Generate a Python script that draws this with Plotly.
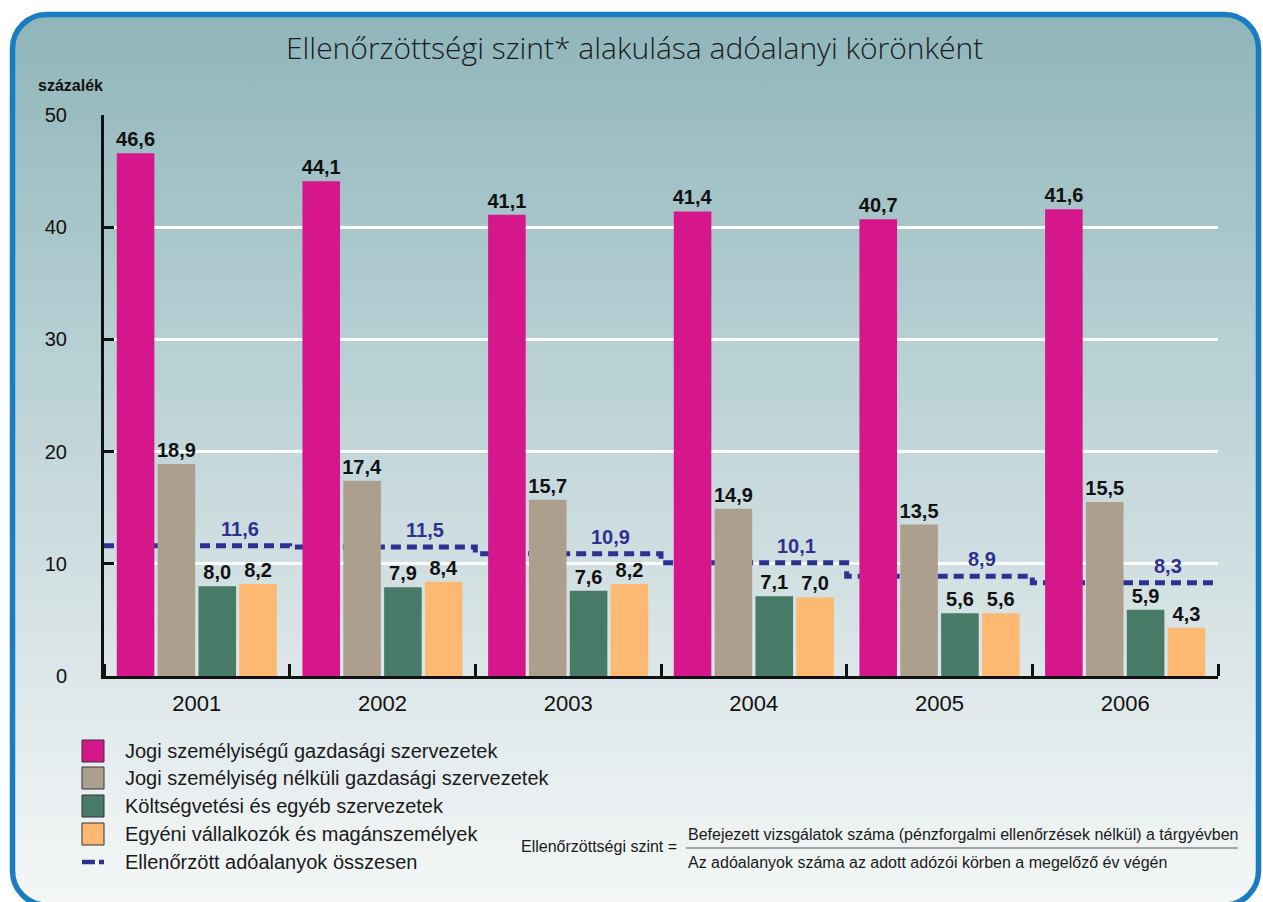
import base64
import plotly.graph_objects as go

# ---------------- data ----------------
years = ["2001", "2002", "2003", "2004", "2005", "2006"]
series_names = [
    "Jogi személyiségű gazdasági szervezetek",
    "Jogi személyiség nélküli gazdasági szervezetek",
    "Költségvetési és egyéb szervezetek",
    "Egyéni vállalkozók és magánszemélyek",
]
jogi = [46.6, 44.1, 41.1, 41.4, 40.7, 41.6]
nem_jogi = [18.9, 17.4, 15.7, 14.9, 13.5, 15.5]
koltsegvetesi = [8.0, 7.9, 7.6, 7.1, 5.6, 5.9]
egyeni = [8.2, 8.4, 8.2, 7.0, 5.6, 4.3]
osszesen = [11.6, 11.5, 10.9, 10.1, 8.9, 8.3]
total_name = "Ellenőrzött adóalanyok összesen"
y_ticks = [0, 10, 20, 30, 40, 50]

colors = ["#d6168b", "#ad9f8e", "#477b67", "#fdb872"]
navy = "#2e3192"

# ---------------- geometry (pixels) ----------------
W, H = 1263, 902
L, R, T, B = 104, 1218, 115, 676
PW, PH = R - L, B - T


def px(x):
    return (x - L) / PW


def py(y):
    return (B - y) / PH


def fmt(v):
    return f"{v:.1f}".replace(".", ",")


FONT = "Liberation Sans, Arial, sans-serif"
TITLE_FONT = "Open Sans, Liberation Sans, sans-serif"

xs = list(range(len(years)))

fig = go.Figure()

# step line for the total (drawn on base axes, behind the bars)
step_x = [i - 0.5 for i in xs] + [xs[-1] + 0.5]
step_y = osszesen + [osszesen[-1]]
fig.add_trace(go.Scatter(
    x=step_x, y=step_y, mode="lines", line_shape="hv",
    line=dict(color=navy, width=5, dash="10px,6px"),
    name=total_name, showlegend=False, hoverinfo="skip",
    xaxis="x", yaxis="y",
))

for name, vals, col in zip(series_names, [jogi, nem_jogi, koltsegvetesi, egyeni], colors):
    fig.add_trace(go.Bar(
        x=xs, y=vals, name=name, marker=dict(color=col, line=dict(width=0)),
        text=[fmt(v) for v in vals], textposition="outside",
        textfont=dict(family=FONT, size=20, color="#111", weight="bold"),
        constraintext="none", cliponaxis=False, showlegend=False,
        xaxis="x2", yaxis="y2",
    ))

# ---------------- background (rounded gradient panel) ----------------
svg = f'''<svg xmlns="http://www.w3.org/2000/svg" width="{W}" height="{H}" viewBox="0 0 {W} {H}" preserveAspectRatio="none">
<defs><linearGradient id="g" x1="0" y1="0" x2="0" y2="1">
<stop offset="0" stop-color="#8fb5ba"/>
<stop offset="0.35" stop-color="#b4ced2"/>
<stop offset="0.7" stop-color="#d9e4e6"/>
<stop offset="1" stop-color="#f5f7f8"/>
</linearGradient></defs>
<rect x="0" y="0" width="{W}" height="{H}" fill="#ffffff"/>
<rect x="12.5" y="14.5" width="1246" height="890.5" rx="34" ry="34" fill="url(#g)" stroke="#1a7dc4" stroke-width="5.5"/>
</svg>'''
src = "data:image/svg+xml;base64," + base64.b64encode(svg.encode("utf-8")).decode("ascii")

images = [dict(source=src, xref="paper", yref="paper", x=px(0), y=py(0),
               sizex=W / PW, sizey=H / PH, xanchor="left", yanchor="top",
               sizing="stretch", layer="below")]

# ---------------- annotations / legend ----------------
ann = [
    dict(text="Ellenőrzöttségi szint* alakulása adóalanyi körönként",
         x=px(634), y=py(47), xref="paper", yref="paper", showarrow=False,
         font=dict(family=TITLE_FONT, size=30, color="#1a1a1a", weight=300),
         xanchor="center", yanchor="middle"),
    dict(text="<b>százalék</b>", x=px(36), y=py(86), xref="paper", yref="paper",
         showarrow=False, font=dict(family=FONT, size=16, color="#111"),
         xanchor="left", yanchor="middle"),
]

# total value labels above the step line
for i, v in zip(xs, osszesen):
    ann.append(dict(text=f"<b>{fmt(v)}</b>", x=i + 0.23, y=v, xref="x2", yref="y2",
                    showarrow=False, yshift=17, xanchor="center", yanchor="middle",
                    font=dict(family=FONT, size=20, color=navy)))

shapes = []
leg_rows = [751, 778, 806, 834, 862]
for (name, col, yy) in zip(series_names, colors, leg_rows[:4]):
    shapes.append(dict(type="rect", xref="paper", yref="paper",
                       x0=px(82), x1=px(104), y0=py(yy - 11), y1=py(yy + 11),
                       fillcolor=col, line=dict(color="#333", width=1), layer="above"))
    ann.append(dict(text=name, x=px(123), y=py(yy), xref="paper", yref="paper",
                    showarrow=False, xanchor="left", yanchor="middle",
                    font=dict(family=FONT, size=20, color="#1a1a1a")))
for (a, b) in [(82, 95), (99, 104)]:
    shapes.append(dict(type="line", xref="paper", yref="paper",
                       x0=px(a), x1=px(b), y0=py(leg_rows[4]), y1=py(leg_rows[4]),
                       line=dict(color=navy, width=4.5), layer="above"))
ann.append(dict(text=total_name, x=px(123), y=py(leg_rows[4]), xref="paper", yref="paper",
                showarrow=False, xanchor="left", yanchor="middle",
                font=dict(family=FONT, size=20, color="#1a1a1a")))

# formula
ann += [
    dict(text="Ellenőrzöttségi szint =", x=px(679), y=py(847), xref="paper", yref="paper",
         showarrow=False, xanchor="right", yanchor="middle",
         font=dict(family=FONT, size=16, color="#1a1a1a")),
    dict(text="Befejezett vizsgálatok száma (pénzforgalmi ellenőrzések nélkül) a tárgyévben",
         x=px(686), y=py(834), xref="paper", yref="paper", showarrow=False,
         xanchor="left", yanchor="middle", font=dict(family=FONT, size=16, color="#1a1a1a")),
    dict(text="Az adóalanyok száma az adott adózói körben a megelőző év végén",
         x=px(686), y=py(862), xref="paper", yref="paper", showarrow=False,
         xanchor="left", yanchor="middle", font=dict(family=FONT, size=16, color="#1a1a1a")),
]
shapes.append(dict(type="line", xref="paper", yref="paper", x0=px(686), x1=px(1238),
                   y0=py(848), y1=py(848), line=dict(color="#555", width=1.2), layer="above"))

xrange_ = [-0.5, len(years) - 0.5]
yrange_ = [y_ticks[0], y_ticks[-1]]

fig.update_layout(
    width=W, height=H,
    margin=dict(l=L, r=W - R, t=T, b=H - B, pad=0),
    paper_bgcolor="white", plot_bgcolor="rgba(0,0,0,0)",
    barmode="group", bargap=0.12, bargroupgap=0.08,
    showlegend=False,
    images=images, annotations=ann, shapes=shapes,
    xaxis=dict(range=xrange_, tickmode="array", tickvals=xs, ticktext=years,
               ticks="", showgrid=False, zeroline=False,
               showline=True, linecolor="#111", linewidth=3,
               tickfont=dict(family=FONT, size=22, color="#111"),
               ticklabelstandoff=6,
               minor=dict(tickmode="linear", tick0=-0.5, dtick=1, ticks="inside",
                          ticklen=12, tickwidth=2.5, tickcolor="#111", showgrid=False)),
    yaxis=dict(range=yrange_, tickmode="array", tickvals=y_ticks,
               ticks="inside", ticklen=10, tickwidth=3, tickcolor="#111",
               showgrid=True, gridcolor="white", gridwidth=2.5, zeroline=False,
               showline=True, linecolor="#111", linewidth=3,
               tickfont=dict(family=FONT, size=20, color="#111"),
               ticklabelstandoff=30),
    xaxis2=dict(range=xrange_, overlaying="x", visible=False, showgrid=False),
    yaxis2=dict(range=yrange_, overlaying="y", visible=False, showgrid=False),
)

fig.write_html("out.html", config={"displayModeBar": False},
               post_script="document.body.style.margin='0';")
